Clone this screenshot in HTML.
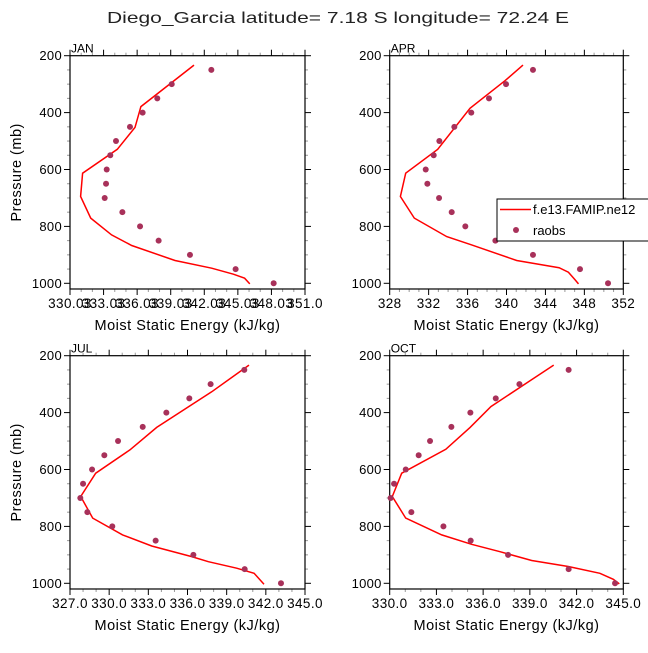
<!DOCTYPE html>
<html><head><meta charset="utf-8"><style>
html,body{margin:0;padding:0;background:#fff}
svg text{font-family:"Liberation Sans",sans-serif;fill:#000}
</style></head><body>
<svg id="chart" width="648" height="648" viewBox="0 0 648 648" xmlns="http://www.w3.org/2000/svg">
<text x="338" y="23" font-size="16" text-anchor="middle" textLength="462" lengthAdjust="spacingAndGlyphs" style="fill:#222">Diego_Garcia  latitude= 7.18 S longitude= 72.24 E</text>
</svg>
<script>
const obsP = [250,300,350,400,450,500,550,600,650,700,750,800,850,900,950,1000];
const janObs = [342.66,339.12,337.83,336.52,335.39,334.14,333.63,333.31,333.25,333.13,334.71,336.29,337.95,340.75,344.83,348.23];
const janModP = [233,379,452,529,613,695,771,830,867,920,947,968,982,1002];
const janMod = [341.11,336.37,335.84,334.26,331.16,330.98,331.88,333.75,335.54,339.41,342.69,344.63,345.63,346.1];
const aprObs = [342.72,339.95,338.2,336.38,334.64,333.1,332.52,331.7,331.87,333.07,334.37,335.77,338.86,342.72,347.55,350.43];
const aprModP = [233,288,385,529,613,695,771,836,865,920,945,961,986,1002];
const aprMod = [341.7,339.85,336.25,332.93,329.64,329.1,330.53,333.86,336.42,341.05,345.4,346.36,347.0,347.4];
const julObs = [340.35,337.77,336.14,334.38,332.57,330.68,329.63,328.69,328.0,327.79,328.33,330.24,333.56,336.45,340.38,343.16];
const julModP = [233,327,452,531,613,695,771,830,869,906,924,947,965,1003];
const julMod = [340.71,337.85,333.64,331.59,328.97,327.82,328.74,331.03,333.26,336.32,337.6,339.77,341.1,341.86];
const octObs = [341.49,338.33,336.81,335.18,333.96,332.59,331.86,331.03,330.28,330.06,331.39,333.45,335.2,337.6,341.49,344.47];
const octModP = [233,379,452,529,613,695,771,830,863,889,920,941,965,986,1002];
const octMod = [340.53,336.5,335.16,333.6,330.77,330.17,331.03,333.34,335.26,337.08,339.12,341.47,343.5,344.36,344.74];
const janTicks = ["330.03","333.03","336.03","339.03","342.03","345.03","348.03","351.0"];
const aprTicks = ["328","332","336","340","344","348","352"];
const julTicks = ["327.0","330.0","333.0","336.0","339.0","342.0","345.0"];
const octTicks = ["330.0","333.0","336.0","339.0","342.0","345.0"];
const yTicks = [200,400,600,800,1000];

const NS="http://www.w3.org/2000/svg";
const svg=document.getElementById('chart');
function mk(tag,attrs,parent){const e=document.createElementNS(NS,tag);for(const k in attrs)e.setAttribute(k,attrs[k]);(parent||svg).appendChild(e);return e;}

const panels=[
 {name:'jan',label:'JAN',x0:70,x1:305,y0:55.7,xmin:330.03,xmax:351.03,step:3,ticks:janTicks,obs:janObs,modP:janModP,mod:janMod,ylab:true},
 {name:'apr',label:'APR',x0:389.7,x1:623.3,y0:55.7,xmin:328,xmax:352,step:4,ticks:aprTicks,obs:aprObs,modP:aprModP,mod:aprMod,ylab:false},
 {name:'jul',label:'JUL',x0:70,x1:305,y0:355.7,xmin:327,xmax:345,step:3,ticks:julTicks,obs:julObs,modP:julModP,mod:julMod,ylab:true},
 {name:'oct',label:'OCT',x0:389.7,x1:623.3,y0:355.7,xmin:330,xmax:345,step:3,ticks:octTicks,obs:octObs,modP:octModP,mod:octMod,ylab:false}
];
const pxPerMb=0.2845;
panels.forEach(p=>{
  const g=mk('g',{});
  
  
  const y1=p.y0+(1020-200)*pxPerMb;
  const xs=v=>p.x0+(v-p.xmin)/(p.xmax-p.xmin)*(p.x1-p.x0);
  const ys=pr=>p.y0+(pr-200)*pxPerMb;
  for(let pr=200;pr<=1000;pr+=50){
    const maj=pr%200===0, L=maj?6:3, c=maj?'#000':'#999';
    mk('line',{x1:p.x0-L,x2:p.x0,y1:ys(pr),y2:ys(pr),stroke:c,'stroke-width':1},g);
    mk('line',{x1:p.x1,x2:p.x1+L,y1:ys(pr),y2:ys(pr),stroke:c,'stroke-width':1},g);
  }
  yTicks.forEach(t=>{
    const tx=mk('text',{x:p.x0-8,y:ys(t)+4.5,'font-size':13,'text-anchor':'end','letter-spacing':0.3},g);
    tx.textContent=t;
    
    
  });
  for(let v=p.xmin;v<=p.xmax+1e-6;v+=1){
    const maj=Math.abs(((v-p.xmin)/p.step)-Math.round((v-p.xmin)/p.step))<1e-6;
    const L=maj?6:3,c=maj?'#000':'#999';
    mk('line',{x1:xs(v),x2:xs(v),y1:p.y0-L,y2:p.y0,stroke:c,'stroke-width':1},g);
    mk('line',{x1:xs(v),x2:xs(v),y1:y1,y2:y1+L,stroke:c,'stroke-width':1},g);
  }
  p.ticks.forEach((t,i)=>{
    const v=p.xmin+i*p.step;
    const tx=mk('text',{x:xs(v),y:y1+19,'font-size':13.5,'text-anchor':'middle','letter-spacing':0.4},g);
    tx.textContent=t;
    
    
  });
  const frame=mk('rect',{x:p.x0,y:p.y0,width:p.x1-p.x0,height:y1-p.y0,fill:'none',stroke:'#000','stroke-width':1.2},g);
  
  
  const lb=mk('text',{x:p.x0+1,y:p.y0-3,'font-size':12},g);
  lb.textContent=p.label;
  
  
  const xt=mk('text',{x:(p.x0+p.x1)/2,y:y1+41,'font-size':14.5,'text-anchor':'middle','letter-spacing':0.5},g);
  xt.textContent='Moist Static Energy (kJ/kg)';
  
  
  if(p.ylab){
    const cy=(p.y0+y1)/2;
    const yt=mk('text',{x:21,y:cy,'font-size':14.5,'text-anchor':'middle','letter-spacing':0.5,transform:'rotate(-90 21 '+cy+')'},g);
    yt.textContent='Pressure (mb)';
    
    
  }
  const pts=p.mod.map((v,i)=>xs(v).toFixed(1)+','+ys(p.modP[i]).toFixed(1)).join(' ');
  const pl=mk('polyline',{points:pts,fill:'none',stroke:'#ff0000','stroke-width':1.5},g);
  
  
  p.obs.forEach((v,i)=>{
    const c=mk('circle',{cx:xs(v),cy:ys(obsP[i]),r:3,fill:'#a8315a'},g);
    
    
  });
});
const lg=mk('g',{});


mk('rect',{x:497,y:199,width:160,height:42,fill:'#fff',stroke:'#000','stroke-width':1},lg);
const le1=mk('line',{x1:500,x2:531,y1:209.5,y2:209.5,stroke:'#ff0000','stroke-width':1.5},lg);


const lt1=mk('text',{x:533,y:214,'font-size':13},lg);
lt1.textContent='f.e13.FAMIP.ne12';


const ld=mk('circle',{cx:516,cy:230,r:3,fill:'#a8315a'},lg);


const lt2=mk('text',{x:533,y:235,'font-size':13},lg);
lt2.textContent='raobs';


</script>
</body></html>
